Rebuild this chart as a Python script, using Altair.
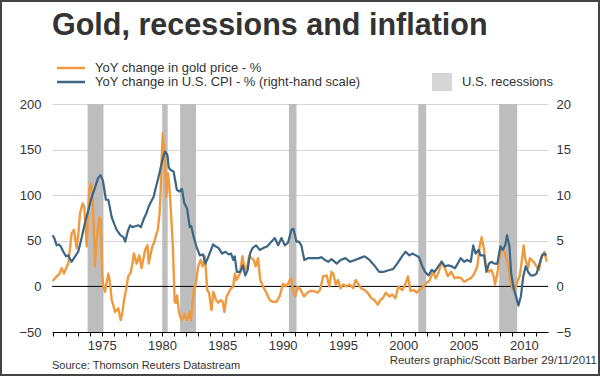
import altair as alt
import pandas as pd

# ---------------- data ----------------
gold_year = [1970.94, 1971.27, 1971.5, 1971.68, 1971.87, 1972.05, 1972.23, 1972.4, 1972.51, 1972.7,
             1972.92, 1973.05, 1973.2, 1973.42, 1973.56, 1973.68, 1973.76, 1973.88, 1973.97, 1974.11,
             1974.25, 1974.35, 1974.44, 1974.58, 1974.8, 1974.91, 1975.05, 1975.15, 1975.27, 1975.42,
             1975.55, 1975.7, 1975.83, 1975.95, 1976.1, 1976.25, 1976.38, 1976.57, 1976.7, 1976.85,
             1977.0, 1977.2, 1977.4, 1977.55, 1977.67, 1977.9, 1978.12, 1978.3, 1978.6, 1978.8,
             1978.9, 1979.05, 1979.2, 1979.35, 1979.5, 1979.65, 1979.8, 1979.9, 1980.0, 1980.07,
             1980.15, 1980.2, 1980.35, 1980.5, 1980.6, 1980.7, 1980.9, 1981.05, 1981.15, 1981.25,
             1981.4, 1981.6, 1981.75, 1981.87, 1982.07, 1982.2, 1982.3, 1982.4, 1982.52, 1982.64,
             1982.8, 1983.0, 1983.2, 1983.37, 1983.56, 1983.75, 1983.9, 1984.1, 1984.26, 1984.48,
             1984.67, 1984.87, 1985.03, 1985.17, 1985.36, 1985.5, 1985.63, 1985.9, 1986.04, 1986.17,
             1986.3, 1986.45, 1986.67, 1986.86, 1987.06, 1987.22, 1987.42, 1987.6, 1987.77, 1987.96,
             1988.15, 1988.37, 1988.65, 1988.93, 1989.2, 1989.48, 1989.75, 1990.04, 1990.25, 1990.45,
             1990.6, 1990.72, 1990.85, 1991.05, 1991.25, 1991.5, 1991.77, 1992.05, 1992.3, 1992.6,
             1992.9, 1993.1, 1993.36, 1993.65, 1993.87, 1994.05, 1994.2, 1994.4, 1994.6, 1994.8,
             1995.0, 1995.3, 1995.55, 1995.85, 1996.05, 1996.25, 1996.5, 1996.8, 1997.05, 1997.35,
             1997.6, 1997.9, 1998.1, 1998.3, 1998.55, 1998.85, 1999.1, 1999.35, 1999.6, 1999.9,
             2000.1, 2000.4, 2000.6, 2000.9, 2001.1, 2001.3, 2001.55, 2001.8, 2002.2, 2002.45,
             2002.7, 2002.95, 2003.15, 2003.45, 2003.7, 2003.97, 2004.25, 2004.5, 2004.8, 2005.05,
             2005.3, 2005.6, 2005.85, 2006.15, 2006.33, 2006.5, 2006.7, 2006.85, 2007.1, 2007.3,
             2007.5, 2007.6, 2007.8, 2008.0, 2008.15, 2008.35, 2008.55, 2008.7, 2008.9, 2009.05,
             2009.25, 2009.45, 2009.65, 2009.8, 2009.98, 2010.1, 2010.35, 2010.5, 2010.8, 2011.05,
             2011.25, 2011.45, 2011.7, 2011.9]
gold_yoy = [6, 11, 14, 20, 14, 20, 25, 45, 58, 62,
            42, 55, 80, 91, 87, 60, 44, 80, 106, 113,
            98, 60, 22, 51, 76, 73, 11, 0, -6, 5,
            14, 3, -15, -20, -28, -26, -24, -37, -30, -15,
            -5, 11, 15, 25, 36, 25, 34, 20, 40, 45,
            25, 35, 44, 48, 56, 62, 80, 109, 150, 168,
            150, 155, 98, 124, 110, 91, 44, -17, -18, -10,
            -28, -37, -35, -30, -37, -32, -28, -37, -20, -4,
            3, 22, 29, 22, 33, -4, -7, -26, -6, -15,
            -18, -15, -17, -28, -11, -8, -4, 0, 14, 7,
            10, 14, 33, 18, 22, 33, 31, 29, 22, 31,
            7, 0, -7, -15, -17, -17, -11, 3, 0, 3,
            7, 9, -4, -11, 0, -4, -11, -7, -5, -5,
            -7, -4, 11, 12, 0, 16, 14, 2, 7, -2,
            2, 0, 2, -2, 7, 3, -2, -4, -7, -13,
            -15, -20, -15, -13, -7, -11, -9, -13, 0, -4,
            0, 11, -5, -4, -7, -4, -2, 2, 7, 16,
            9, 16, 27, 20, 11, 16, 9, 10, 9, 5,
            7, 9, 13, 22, 44, 54, 40, 22, 16, 18,
            11, 2, 14, 34, 42, 40, 31, 24, 4, -2,
            -4, 5, 11, 25, 45, 31, 20, 31, 27, 22,
            18, 31, 38, 27]

cpi_year = [1970.94, 1971.1, 1971.27, 1971.45, 1971.6, 1971.82, 1972.04, 1972.23, 1972.5, 1972.8,
            1973.05, 1973.3, 1973.6, 1973.9, 1974.15, 1974.44, 1974.7, 1974.9, 1975.1, 1975.35,
            1975.55, 1975.83, 1976.05, 1976.24, 1976.57, 1976.8, 1976.95, 1977.15, 1977.35, 1977.55,
            1977.77, 1978.05, 1978.25, 1978.46, 1978.7, 1978.88, 1979.1, 1979.3, 1979.5, 1979.7,
            1979.97, 1980.1, 1980.25, 1980.45, 1980.55, 1980.68, 1980.96, 1981.23, 1981.45, 1981.65,
            1981.85, 1982.07, 1982.3, 1982.43, 1982.63, 1982.85, 1983.13, 1983.4, 1983.6, 1983.8,
            1984.0, 1984.24, 1984.43, 1984.7, 1984.98, 1985.26, 1985.54, 1985.73, 1985.9, 1986.03,
            1986.2, 1986.5, 1986.7, 1986.9, 1987.1, 1987.3, 1987.5, 1987.8, 1988.1, 1988.4,
            1988.73, 1989.0, 1989.35, 1989.63, 1989.9, 1990.18, 1990.45, 1990.73, 1990.9, 1991.15,
            1991.35, 1991.55, 1991.8, 1992.1, 1992.5, 1993.0, 1993.2, 1993.5, 1993.8, 1994.05,
            1994.5, 1994.8, 1995.2, 1995.6, 1996.0, 1996.4, 1996.8, 1997.2, 1997.6, 1998.0,
            1998.4, 1998.85, 1999.15, 1999.5, 1999.95, 2000.2, 2000.5, 2000.75, 2001.05, 2001.3,
            2001.55, 2001.8, 2002.1, 2002.35, 2002.6, 2002.9, 2003.2, 2003.45, 2003.75, 2004.0,
            2004.3, 2004.6, 2004.75, 2005.05, 2005.3, 2005.6, 2005.8, 2006.0, 2006.25, 2006.4,
            2006.7, 2006.9, 2007.1, 2007.3, 2007.55, 2007.8, 2008.05, 2008.25, 2008.45, 2008.6,
            2008.8, 2008.95, 2009.15, 2009.35, 2009.55, 2009.75, 2009.95, 2010.15, 2010.35, 2010.55,
            2010.8, 2011.05, 2011.3, 2011.5, 2011.7, 2011.88]
cpi_yoy = [5.6, 5.2, 4.5, 4.6, 4.4, 3.8, 3.3, 3.4, 2.7, 3.3,
           3.8, 5.1, 6.9, 8.4, 9.7, 10.8, 11.9, 12.2, 11.6, 9.5,
           9.5, 7.6, 6.8, 6.2, 5.6, 5.4, 4.9, 6.0, 6.7, 6.5,
           6.6, 6.7, 6.5, 7.3, 8.0, 8.7, 9.3, 9.8, 10.9, 11.9,
           13.5, 14.2, 14.8, 14.4, 13.1, 12.8, 12.6, 10.6, 10.4, 10.7,
           9.1, 8.6, 6.5, 6.6, 5.4, 4.4, 3.4, 3.5, 2.5, 3.1,
           3.8, 4.6, 4.4, 4.2, 3.6, 3.8, 3.5, 3.6, 2.9, 3.3,
           1.6, 1.6, 2.3, 1.2, 1.8, 3.6, 4.2, 4.5, 4.0, 4.2,
           4.4, 4.8, 5.3, 4.5, 5.3, 4.5, 4.8, 6.2, 6.3, 4.9,
           4.9, 4.5, 2.9, 3.1, 3.1, 3.1, 3.2, 2.9, 2.7, 3.0,
           2.5, 2.9, 3.1, 2.7, 2.9, 3.1, 3.3, 2.9, 2.3, 1.6,
           1.6, 1.8, 1.9, 2.5, 3.4, 3.8, 3.4, 3.6, 3.4, 3.2,
           2.3, 1.6, 1.2, 1.8, 1.6, 2.2, 2.7, 2.2, 2.3, 2.2,
           2.0, 2.7, 3.1, 2.7, 2.9, 2.7, 4.5, 3.6, 4.0, 3.4,
           3.4, 1.6, 2.5, 2.7, 2.5, 2.5, 4.4, 4.0, 4.5, 5.6,
           4.4, 1.4, -0.2, -1.1, -2.1, -1.1, 1.1, 2.2, 1.6, 1.2,
           1.2, 1.4, 2.5, 3.4, 3.6, 3.4]

rec_start = [1973.83, 1980.02, 1981.5, 1990.52, 2001.25, 2007.95]
rec_end = [1975.15, 1980.47, 1982.82, 1991.15, 2001.9, 2009.45]

left_ticks = [-50, 0, 50, 100, 150, 200]
right_ticks = [-5, 0, 5, 10, 15, 20]
year_ticks = list(range(1971, 2012))

title_text = "Gold, recessions and inflation"
legend_gold = "YoY change in gold price - %"
legend_cpi = "YoY change in U.S. CPI - % (right-hand scale)"
legend_rec = "U.S. recessions"
source_text = "Source: Thomson Reuters Datastream"
credit_text = "Reuters graphic/Scott Barber 29/11/2011"

# ---------------- styling ----------------
FONT = "Liberation Sans"
ORANGE = "#ef9a3e"
BLUE = "#3b6684"
REC = "#bdbdbd"
TXT = "#333333"
W, H = 496, 228

gold_df = pd.DataFrame({"year": gold_year, "value": gold_yoy})
cpi_df = pd.DataFrame({"year": cpi_year, "value": cpi_yoy})
rec_df = pd.DataFrame({"year": rec_start, "end": rec_end})
zero_df = pd.DataFrame({"value": [0]})
one = pd.DataFrame({"a": [0]})

x_scale = alt.Scale(domain=[1970.88, 2012.0], nice=False, zero=False)
x_axis = alt.Axis(values=year_ticks, labelExpr="datum.value % 5 == 0 ? datum.label : ''",
                  format="d", title=None, grid=False, domainColor="#000000", tickColor="#000000",
                  tickSize=4, labelPadding=3, labelFontSize=13, labelColor=TXT, labelFont=FONT)
X = alt.X("year:Q", scale=x_scale, axis=x_axis)

gold_scale = alt.Scale(domain=[-50, 200], nice=False, zero=False)
gold_axis = alt.Axis(values=left_ticks, title=None, orient="left", grid=True, gridColor="#d6d6d6",
                     domain=False, ticks=False, tickSize=0, labelPadding=11, labelFontSize=13,
                     labelColor=TXT, labelFont=FONT)
cpi_scale = alt.Scale(domain=[-5, 20], nice=False, zero=False)
cpi_axis = alt.Axis(values=right_ticks, title=None, orient="right", grid=False,
                    domain=False, ticks=False, tickSize=0, labelPadding=8, labelFontSize=13,
                    labelColor=TXT, labelFont=FONT)

bars = alt.Chart(rec_df).mark_rect(color=REC).encode(
    x=X, x2="end:Q", y=alt.value(0), y2=alt.value(H))

zero_rule = alt.Chart(zero_df).mark_rule(color="#000000", strokeWidth=1).encode(
    y=alt.Y("value:Q", scale=gold_scale, axis=gold_axis))
gold_line = alt.Chart(gold_df).mark_line(color=ORANGE, strokeWidth=2.4, strokeJoin="round").encode(
    x=X, y=alt.Y("value:Q", scale=gold_scale, axis=gold_axis))
gold_layer = alt.layer(zero_rule, gold_line)

cpi_line = alt.Chart(cpi_df).mark_line(color=BLUE, strokeWidth=2.2, strokeJoin="round").encode(
    x=X, y=alt.Y("value:Q", scale=cpi_scale, axis=cpi_axis))

def txt(s, x, y, size=13, weight="normal", align="left", baseline="middle", color=TXT):
    return alt.Chart(one).mark_text(text=s, font=FONT, fontSize=size, fontWeight=weight,
                                    align=align, baseline=baseline, color=color).encode(
        x=alt.value(x), y=alt.value(y))

def hline(x1, x2, y, color):
    return alt.Chart(one).mark_rule(color=color, strokeWidth=2.5).encode(
        x=alt.value(x1), x2=alt.value(x2), y=alt.value(y))

title = txt(title_text, 0, -69, size=30.5, weight="bold", baseline="alphabetic", color="#333333")
leg1_line = hline(5, 33, -36, ORANGE)
leg1_txt = txt(legend_gold, 43, -36)
leg2_line = hline(5, 33, -22, BLUE)
leg2_txt = txt(legend_cpi, 43, -22)
leg_box = alt.Chart(one).mark_rect(color="#d6d6d6").encode(
    x=alt.value(380), x2=alt.value(400), y=alt.value(-31), y2=alt.value(-13))
leg3_txt = txt(legend_rec, 410, -22)
src = txt(source_text, 0, 262, size=11)
credit = txt(credit_text, 545, 257, size=11.5, align="right")
border = alt.Chart(one).mark_rect(filled=False, stroke="#444444", strokeWidth=2).encode(
    x=alt.value(-51), x2=alt.value(547), y=alt.value(-103), y2=alt.value(271))

chart = alt.layer(
    bars, gold_layer, cpi_line,
    title, leg1_line, leg1_txt, leg2_line, leg2_txt, leg_box, leg3_txt, src, credit, border
).resolve_scale(y="independent").properties(
    width=W, height=H,
    autosize=alt.AutoSizeParams(type="none"),
    padding={"left": 52, "top": 104, "right": 52, "bottom": 44},
    background="#ffffff"
).configure_view(stroke=None)

chart.save("out.html", embed_options={"renderer": "svg", "actions": False})
